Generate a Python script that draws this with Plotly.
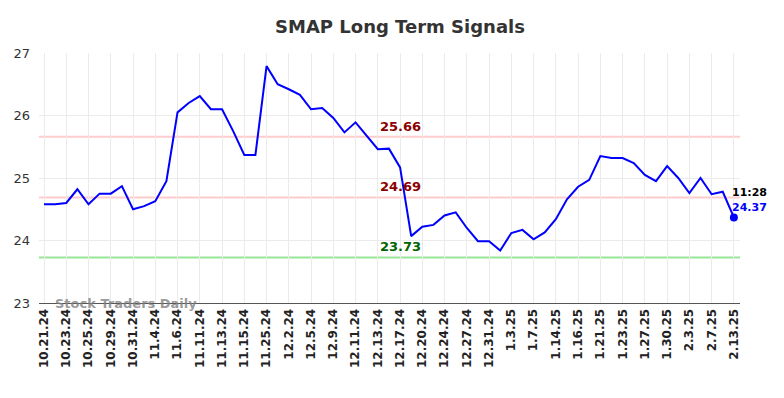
import plotly.graph_objects as go

dates = ["10.21.24","10.22.24","10.23.24","10.24.24","10.25.24","10.28.24","10.29.24","10.30.24",
         "10.31.24","11.1.24","11.4.24","11.5.24","11.6.24","11.8.24","11.11.24","11.12.24",
         "11.13.24","11.14.24","11.15.24","11.22.24","11.25.24","11.27.24","12.2.24","12.4.24",
         "12.5.24","12.6.24","12.9.24","12.10.24","12.11.24","12.12.24","12.13.24","12.16.24",
         "12.17.24","12.18.24","12.20.24","12.23.24","12.24.24","12.26.24","12.27.24","12.30.24",
         "12.31.24","1.2.25","1.3.25","1.6.25","1.7.25","1.10.25","1.14.25","1.15.25",
         "1.16.25","1.17.25","1.21.25","1.22.25","1.23.25","1.24.25","1.27.25","1.28.25",
         "1.30.25","1.31.25","2.3.25","2.5.25","2.7.25","2.11.25","2.13.25"]

prices = [24.58,24.58,24.60,24.82,24.58,24.75,24.75,24.87,
          24.50,24.55,24.63,24.95,26.05,26.20,26.31,26.10,
          26.10,25.75,25.37,25.37,26.79,26.50,26.42,26.33,
          26.10,26.12,25.96,25.73,25.89,25.68,25.46,25.47,
          25.17,24.07,24.22,24.25,24.40,24.45,24.20,23.99,
          23.99,23.84,24.12,24.17,24.02,24.13,24.34,24.66,
          24.86,24.97,25.35,25.32,25.32,25.24,25.05,24.95,
          25.19,25.00,24.76,25.00,24.74,24.78,24.37]

tick_labels = dates[::2]
upper_level = 25.66
mid_level = 24.69
lower_level = 23.73
last_time = "11:28"

font = "DejaVu Sans"
fig = go.Figure()

fig.add_trace(go.Scatter(x=dates, y=prices, mode="lines",
                         line=dict(color="#0000ff", width=2), hoverinfo="skip"))
fig.add_trace(go.Scatter(x=[dates[-1]], y=[prices[-1]], mode="markers",
                         marker=dict(color="#0000ff", size=8), hoverinfo="skip"))

for lvl, col in [(upper_level, "#ffcccc"), (mid_level, "#ffcccc"), (lower_level, "#99e699")]:
    fig.add_shape(type="line", xref="paper", x0=0, x1=1, yref="y", y0=lvl, y1=lvl,
                  line=dict(color=col, width=2), layer="below")

mid_cat = dates[32]
for lvl, col in [(upper_level, "#8b0000"), (mid_level, "#8b0000"), (lower_level, "#006400")]:
    fig.add_annotation(x=mid_cat, y=lvl, text=f"{lvl:.2f}", showarrow=False,
                       yanchor="bottom", xanchor="center", yshift=1,
                       font=dict(family=font, size=13, color=col, weight="bold"))

fig.add_annotation(x=dates[-1], y=prices[-1], text=last_time, showarrow=False,
                   xanchor="left", yanchor="bottom", xshift=-4, yshift=16,
                   font=dict(family=font, size=11, color="#000000", weight="bold"))
fig.add_annotation(x=dates[-1], y=prices[-1], text=f"{prices[-1]:.2f}", showarrow=False,
                   xanchor="left", yanchor="bottom", xshift=-4, yshift=1,
                   font=dict(family=font, size=11, color="#0000ff", weight="bold"))

fig.add_annotation(xref="paper", yref="y", x=0.02, y=23, text="Stock Traders Daily",
                   showarrow=False, xanchor="left", yanchor="middle",
                   font=dict(family=font, size=13, color="rgba(128,128,128,0.8)", weight="bold"))

fig.update_layout(
    width=784, height=398,
    margin=dict(l=31, r=52, t=45, b=103, autoexpand=False),
    paper_bgcolor="white", plot_bgcolor="white",
    showlegend=False,
    title=dict(text="SMAP Long Term Signals", x=0.5, xanchor="center", y=0.952, yanchor="middle",
               font=dict(family=font, size=18, color="#333333", weight="bold")),
    xaxis=dict(type="category", categoryorder="array", categoryarray=dates,
               tickmode="array", tickvals=tick_labels, ticktext=tick_labels,
               tickangle=-90, range=[-0.45, 62.55], automargin=False,
               tickfont=dict(family=font, size=12, color="#222222", weight="bold"),
               showgrid=True, gridcolor="#ebebeb", gridwidth=1,
               showline=True, linecolor="#555555", linewidth=1, ticks="", zeroline=False),
    yaxis=dict(range=[23, 27], tickvals=[23, 24, 25, 26, 27], automargin=False,
               tickfont=dict(family=font, size=13, color="#333333"),
               showgrid=True, gridcolor="#ebebeb", gridwidth=1,
               zeroline=False, showline=False, ticks="", ticklabelstandoff=8),
)

fig.write_html("out.html")
